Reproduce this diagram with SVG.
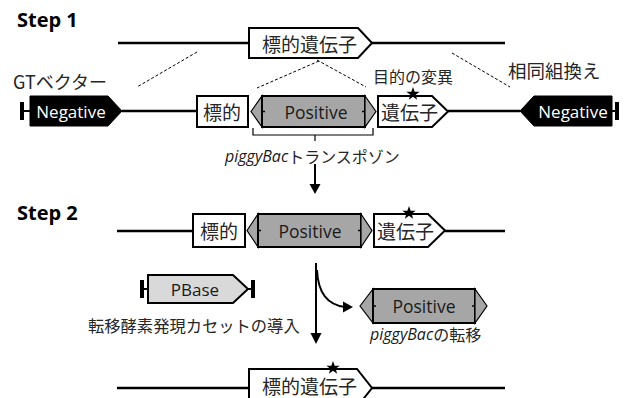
<svg xmlns="http://www.w3.org/2000/svg" width="629" height="398" viewBox="0 0 629 398">
<defs>
<style>
.ln{stroke:#000;stroke-width:2.5;fill:none}
.thin{stroke:#000;stroke-width:1.2;fill:none}
.dash{stroke:#000;stroke-width:1;fill:none;stroke-dasharray:3 2}
.box{fill:#fff;stroke:#000;stroke-width:2}
.pos{fill:#a6a6a6;stroke:#000;stroke-width:2}
.tri{fill:#a6a6a6;stroke:#000;stroke-width:1.2}
.neg{fill:#000;stroke:#000;stroke-width:1}
.pb{fill:#d9d9d9;stroke:#000;stroke-width:2}
.cap{fill:#000}
.jp{font-family:"Noto Sans CJK JP","Noto Sans",sans-serif;fill:#262626}
.lat{font-family:"Open Sans","Noto Sans",sans-serif;fill:#1a1a1a}
.step{font-family:"Open Sans","Noto Sans",sans-serif;font-weight:bold;font-size:20px;fill:#000}
.arr{fill:#000}
</style>
<polygon id="star" points="0,-7 1.65,-2.27 6.66,-2.16 2.66,0.87 4.11,5.66 0,2.8 -4.11,5.66 -2.66,0.87 -6.66,-2.16 -1.65,-2.27" fill="#000"/>
</defs>
<rect width="629" height="398" fill="#fff"/>

<text class="step" x="17" y="27">Step 1</text>
<text class="step" x="17" y="220">Step 2</text>

<g id="connectors">
<line class="ln" x1="118" y1="43" x2="505" y2="43"/>
<line class="dash" x1="197" y1="52" x2="137" y2="87"/>
<line class="dash" x1="319" y1="61" x2="257" y2="88"/>
<line class="dash" x1="317" y1="60" x2="366" y2="87"/>
<line class="dash" x1="452" y1="53" x2="510" y2="87"/>
<line class="ln" x1="122" y1="111" x2="197" y2="111"/>
<line class="ln" x1="448" y1="111" x2="520" y2="111"/>
<path class="thin" d="M253,128 V135 H373 V128 M315,135 V141"/>
<line stroke="#000" stroke-width="2" x1="315" y1="164" x2="315" y2="186"/>
<polygon class="arr" points="309.5,184 320.5,184 315,194"/>
<line class="ln" x1="117" y1="231" x2="193" y2="231"/>
<line class="ln" x1="445" y1="231" x2="505" y2="231"/>
<line stroke="#000" stroke-width="2" x1="316" y1="263" x2="316" y2="335"/>
<polygon class="arr" points="310.5,333 321.5,333 316,344"/>
<path stroke="#000" stroke-width="2" fill="none" d="M317,270 C318,293 328,305 345,307"/>
<polygon class="arr" points="343,301.5 353,307 343,312.5"/>
<line class="ln" x1="117" y1="388" x2="249" y2="388"/>
<line class="ln" x1="372" y1="388" x2="505" y2="388"/>
</g>

<g id="target-gene-top">
<polygon class="box" points="249,28 358,28 372,43 358,58 249,58"/>
<text class="jp" x="262" y="43" font-size="19" dominant-baseline="central">標的遺伝子</text>
</g>

<text class="jp" x="13" y="81" font-size="18" dominant-baseline="central">GTベクター</text>
<text class="jp" x="373" y="76" font-size="16" dominant-baseline="central">目的の変異</text>
<text class="jp" x="508" y="70" font-size="18.5" dominant-baseline="central">相同組換え</text>

<g id="negative-left">
<rect class="cap" x="20" y="102" width="4" height="18"/>
<line stroke="#000" stroke-width="2" x1="23" y1="111" x2="30" y2="111"/>
<polygon class="neg" points="30,96 108,96 122,111 108,126 30,126"/>
<text class="lat" x="71" y="111" font-size="17" style="fill:#fff" text-anchor="middle" dominant-baseline="central">Negative</text>
</g>

<g id="target-5-step1">
<rect class="box" x="197" y="96" width="51" height="31"/>
<text class="jp" x="222" y="111" font-size="19" text-anchor="middle" dominant-baseline="central">標的</text>
</g>

<g id="positive-step1">
<polygon class="tri" points="251,111.5 262,96 262,127"/>
<rect class="pos" x="262" y="96" width="103" height="31"/>
<polygon class="tri" points="365,96 376,111.5 365,127"/>
<line stroke="#000" stroke-width="1.5" x1="262" y1="111.5" x2="265" y2="111.5"/>
<line stroke="#000" stroke-width="1.5" x1="362" y1="111.5" x2="365" y2="111.5"/>
<text class="lat" x="316" y="111.5" font-size="17.5" text-anchor="middle" dominant-baseline="central">Positive</text>
</g>

<g id="gene-3-step1">
<polygon class="box" points="378,96 432,96 448,111.5 432,127 378,127"/>
<text class="jp" x="381" y="111.5" font-size="19" dominant-baseline="central">遺伝子</text>
<use href="#star" x="413" y="94"/>
</g>

<g id="negative-right">
<polygon class="neg" points="520,111 534,96 612,96 612,126 534,126"/>
<line stroke="#000" stroke-width="2" x1="612" y1="111" x2="616" y2="111"/>
<rect class="cap" x="615" y="102" width="4" height="18"/>
<text class="lat" x="573" y="111" font-size="17" style="fill:#fff" text-anchor="middle" dominant-baseline="central">Negative</text>
</g>

<text class="jp" x="225" y="156" font-size="16" dominant-baseline="central"><tspan class="lat" font-style="italic">piggyBac</tspan>トランスポゾン</text>

<g id="target-5-step2">
<rect class="box" x="193" y="214" width="52" height="33"/>
<text class="jp" x="219" y="230.5" font-size="19" text-anchor="middle" dominant-baseline="central">標的</text>
</g>

<g id="positive-step2">
<polygon class="tri" points="247,230.5 258,214 258,247"/>
<rect class="pos" x="258" y="214" width="103" height="33"/>
<polygon class="tri" points="361,214 372,230.5 361,247"/>
<line stroke="#000" stroke-width="1.5" x1="258" y1="230.5" x2="261" y2="230.5"/>
<line stroke="#000" stroke-width="1.5" x1="358" y1="230.5" x2="361" y2="230.5"/>
<text class="lat" x="310" y="230.5" font-size="17.5" text-anchor="middle" dominant-baseline="central">Positive</text>
</g>

<g id="gene-3-step2">
<polygon class="box" points="374,214 428,214 445,230.5 428,247 374,247"/>
<text class="jp" x="377" y="230.5" font-size="19" dominant-baseline="central">遺伝子</text>
<use href="#star" x="409" y="213"/>
</g>

<g id="pbase">
<rect class="cap" x="140" y="280" width="4" height="18"/>
<line stroke="#000" stroke-width="2" x1="143" y1="289" x2="148" y2="289"/>
<polygon class="pb" points="148,275 233,275 248,289 233,303 148,303"/>
<line stroke="#000" stroke-width="2" x1="248" y1="289" x2="252" y2="289"/>
<rect class="cap" x="251" y="280" width="4" height="18"/>
<text class="lat" x="195" y="289" font-size="17" text-anchor="middle" dominant-baseline="central">PBase</text>
</g>
<text class="jp" x="88" y="325" font-size="16.3" dominant-baseline="central">転移酵素発現カセットの導入</text>

<g id="positive-transposed">
<polygon class="tri" points="360,306 373,289 373,323"/>
<rect class="pos" x="373" y="289" width="102" height="34"/>
<polygon class="tri" points="475,289 487,306 475,323"/>
<line stroke="#000" stroke-width="1.5" x1="373" y1="306" x2="376" y2="306"/>
<line stroke="#000" stroke-width="1.5" x1="472" y1="306" x2="475" y2="306"/>
<text class="lat" x="424" y="306" font-size="17.5" text-anchor="middle" dominant-baseline="central">Positive</text>
</g>
<text class="jp" x="370" y="334" font-size="16" dominant-baseline="central"><tspan class="lat" font-style="italic">piggyBac</tspan>の転移</text>

<g id="target-gene-bottom">
<polygon class="box" points="249,369 357,369 372,388 357,407 249,407"/>
<text class="jp" x="262" y="385" font-size="19" dominant-baseline="central">標的遺伝子</text>
<use href="#star" x="333" y="368"/>
</g>
</svg>
